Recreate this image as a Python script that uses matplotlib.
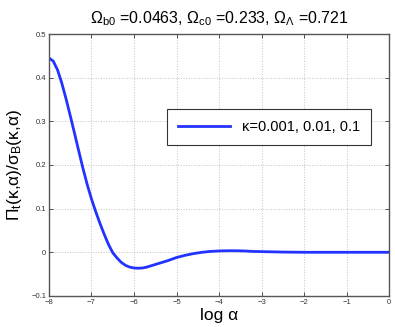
import numpy as np
import matplotlib
matplotlib.use("Agg")
import matplotlib.pyplot as plt

plt.rcParams['font.family'] = ['Liberation Sans', 'DejaVu Sans']
plt.rcParams['mathtext.fontset'] = 'custom'
plt.rcParams['mathtext.rm'] = 'Liberation Sans'
plt.rcParams['mathtext.it'] = 'Liberation Sans'

# curve
log_alpha = [-8.0, -7.9, -7.8, -7.7, -7.6, -7.5, -7.4, -7.3, -7.2, -7.1,
             -7.0, -6.9, -6.8, -6.7, -6.6, -6.5, -6.4, -6.3, -6.2, -6.1,
             -6.0, -5.9, -5.8, -5.7, -5.6, -5.5, -5.4, -5.2, -5.0, -4.8,
             -4.6, -4.4, -4.2, -4.0, -3.8, -3.6, -3.4, -3.2, -3.0, -2.5,
             -2.0, -1.5, -1.0, -0.5, 0.0]
ratio = [0.445, 0.438, 0.418, 0.388, 0.352, 0.313, 0.273, 0.232, 0.192, 0.155,
         0.122, 0.093, 0.066, 0.041, 0.018, -0.001, -0.013, -0.023, -0.030, -0.034,
         -0.036, -0.0365, -0.036, -0.034, -0.031, -0.028, -0.025, -0.019, -0.012, -0.007,
         -0.003, 0.000, 0.002, 0.003, 0.0035, 0.0035, 0.003, 0.002, 0.0015, 0.0005,
         0.0, 0.0, 0.0, 0.0, 0.0]

x_ticks = [-8, -7, -6, -5, -4, -3, -2, -1, 0]
y_ticks = [-0.1, 0, 0.1, 0.2, 0.3, 0.4, 0.5]
y_labels = ['\u22120.1', '0', '0.1', '0.2', '0.3', '0.4', '0.5']
x_labels = ['\u22128', '\u22127', '\u22126', '\u22125', '\u22124', '\u22123', '\u22122', '\u22121', '0']

fig = plt.figure(figsize=(3.95, 3.27), dpi=100)
ax = fig.add_axes([0.124, 0.095, 0.861, 0.801])

ax.plot(log_alpha, ratio, color='#2233ff', lw=2.0,
        label='\u03ba=0.001, 0.01, 0.1')

ax.set_xlim(-8, 0)
ax.set_ylim(-0.1, 0.5)
ax.set_xticks(x_ticks)
ax.set_xticklabels(x_labels)
ax.set_yticks(y_ticks)
ax.set_yticklabels(y_labels)
ax.tick_params(direction='in', labelsize=5.5, length=3, width=0.6,
               top=True, right=True, colors='#333333', pad=2)
for s in ax.spines.values():
    s.set_color('#555555')
    s.set_linewidth(1.0)
ax.grid(True, linestyle=':', color='#c4c4c4', linewidth=0.7)

ax.set_xlabel('log \u03b1', fontsize=12.5, labelpad=2)
ax.set_ylabel(r'$\Pi_{\rm t}$(' + '\u03ba,\u03b1' + r')/$\sigma_{\rm B}$(' + '\u03ba,\u03b1)',
              fontsize=12.5, labelpad=5)
ax.set_title(r'$\Omega_{\rm b0}$ =0.0463, $\Omega_{\rm c0}$ =0.233, $\Omega_\Lambda$ =0.721',
             fontsize=11.5, pad=8)

leg = ax.legend(loc='center', bbox_to_anchor=(269 / 395, 1 - 127 / 327),
                bbox_transform=fig.transFigure, fontsize=10.5, handlelength=3.6,
                fancybox=False, framealpha=1, borderpad=0.75)
leg.get_frame().set_edgecolor('#333333')
leg.get_frame().set_linewidth(0.8)

fig.savefig('out.png', dpi=100)
